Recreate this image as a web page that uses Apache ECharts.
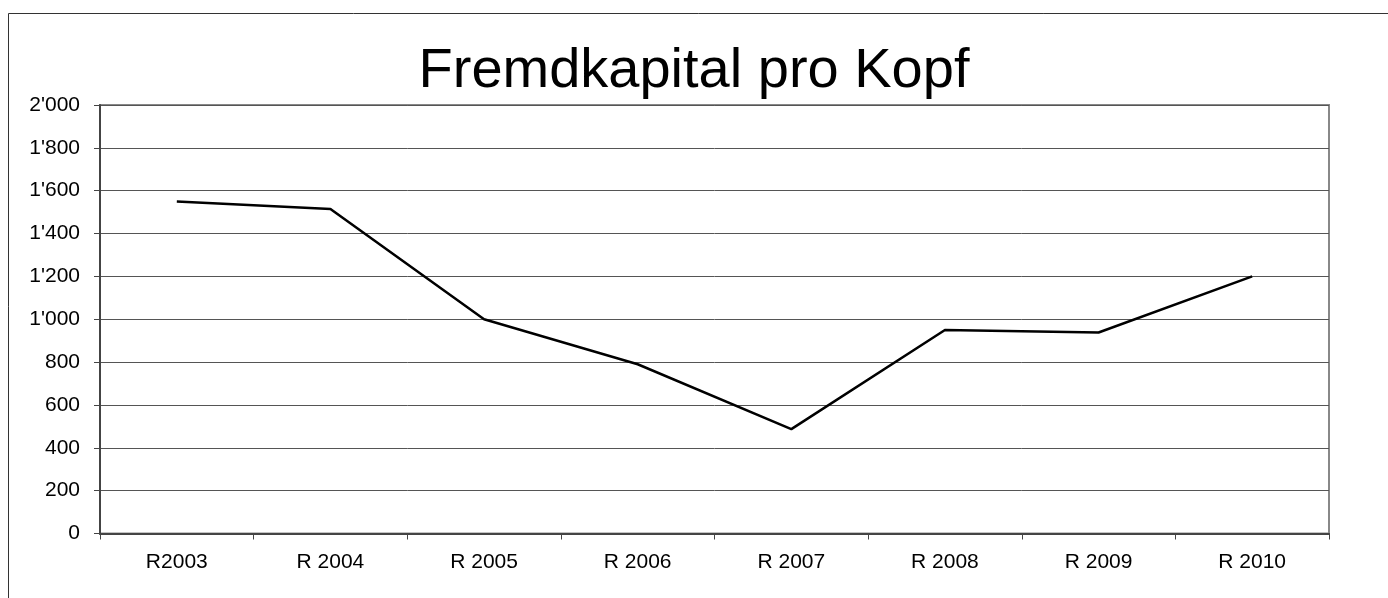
<!DOCTYPE html>
<html>
<head>
<meta charset="utf-8">
<script src="https://cdn.jsdelivr.net/npm/echarts@6/dist/echarts.min.js"></script>
<style>html,body{margin:0;padding:0;background:#fff}#c{width:1388px;height:598px}</style>
</head>
<body>
<div id="c"></div>
<script>
const categories = ['R2003', 'R 2004', 'R 2005', 'R 2006', 'R 2007', 'R 2008', 'R 2009', 'R 2010'];
const values = [1550, 1515, 1000, 790, 487, 950, 938, 1200];
const titleText = 'Fremdkapital pro Kopf';

const chart = echarts.init(document.getElementById('c'));
const font = '"Liberation Sans", Arial, sans-serif';
chart.setOption({
  animation: false,
  backgroundColor: '#fff',
  graphic: [{
    type: 'rect', shape: {x: 8.5, y: 13.5, width: 1500, height: 700},
    style: {fill: 'none', stroke: '#333', lineWidth: 1}, silent: true, z: 0
  }],
  title: {
    text: titleText, left: 'center', top: 39,
    textStyle: {fontFamily: font, fontSize: 56, fontWeight: 'normal', color: '#000'}
  },
  grid: {
    left: 100, right: 59, top: 105, bottom: 64.5,
    show: true, borderColor: '#888', borderWidth: 2, backgroundColor: 'transparent'
  },
  xAxis: {
    type: 'category', data: categories, boundaryGap: true,
    axisLine: {lineStyle: {color: '#444', width: 2}},
    axisTick: {show: true, length: 6, inside: false, alignWithLabel: false, lineStyle: {color: '#444', width: 1}},
    axisLabel: {fontFamily: font, fontSize: 21, color: '#000', margin: 18},
    splitLine: {show: false}
  },
  yAxis: {
    type: 'value', min: 0, max: 2000, interval: 200,
    axisLine: {show: true, lineStyle: {color: '#444', width: 2}},
    axisTick: {show: true, length: 6, lineStyle: {color: '#444', width: 1}},
    axisLabel: {
      fontFamily: font, fontSize: 21, color: '#000', margin: 20,
      formatter: v => String(v).replace(/\B(?=(\d{3})+(?!\d))/g, "'")
    },
    splitLine: {show: true, lineStyle: {color: '#555', width: 1}}
  },
  series: [{
    type: 'line', data: values, symbol: 'none',
    lineStyle: {color: '#000', width: 2.5}
  }]
});
</script>
</body>
</html>
